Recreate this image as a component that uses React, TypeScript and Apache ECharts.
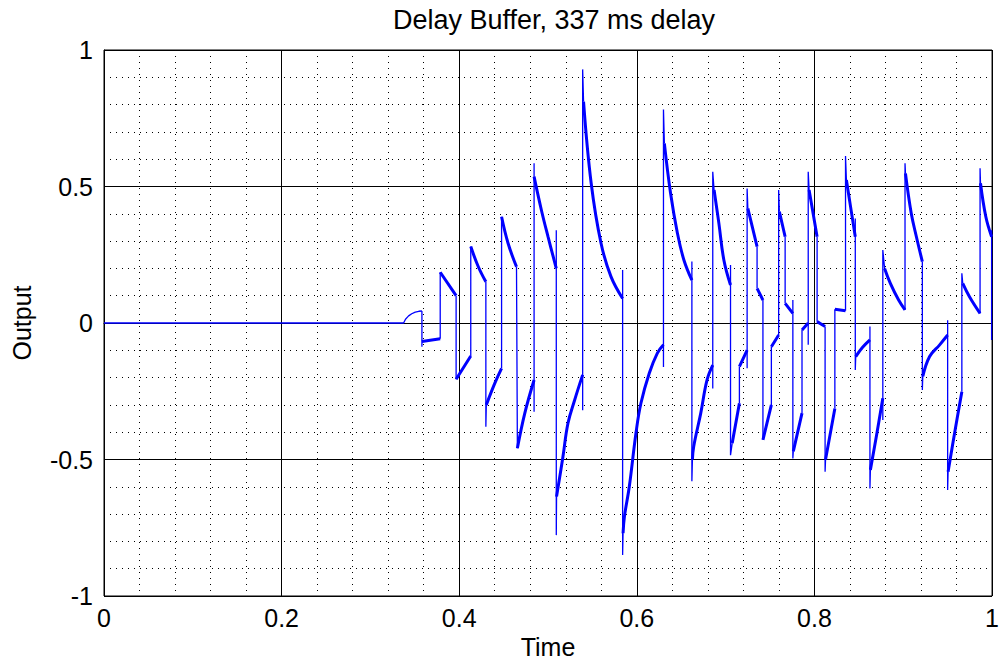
import React, { useEffect, useRef } from "react";
import * as echarts from "echarts";

type P = [number, number];

// Tick labels
const xTicks = [0, 0.2, 0.4, 0.6, 0.8, 1];
const xTickLabels = ["0", "0.2", "0.4", "0.6", "0.8", "1"];
const yTicks = [-1, -0.5, 0, 0.5, 1];
const yTickLabels = ["-1", "-0.5", "0", "0.5", "1"];

// Waveform pieces: [time, output]
const leadRun: P[] = [[0, 0], [0.3374, 0], [0.3395, 0.014], [0.343, 0.026], [0.3465, 0.034], [0.3505, 0.04], [0.3545, 0.043], [0.358, 0.044]];
const leadSpikes: number[] = [-0.087];

const runs: P[][] = [
  [[0.358, -0.068], [0.3786, -0.058]],
  [[0.3786, 0.186], [0.3965, 0.1]],
  [[0.3965, -0.206], [0.413, -0.121]],
  [[0.413, 0.28], [0.4215, 0.206], [0.43, 0.151]],
  [[0.4305, -0.3], [0.44, -0.221], [0.4477, -0.166]],
  [[0.4477, 0.389], [0.455, 0.292], [0.4645, 0.206]],
  [[0.4655, -0.459], [0.4738, -0.331], [0.4843, -0.209]],
  [[0.4843, 0.536], [0.4925, 0.414], [0.5, 0.316], [0.5093, 0.2]],
  [[0.5096, -0.636], [0.5168, -0.49], [0.5224, -0.368], [0.53, -0.282], [0.539, -0.19]],
  [[0.54, 0.811], [0.5486, 0.512], [0.5597, 0.292], [0.5709, 0.17], [0.584, 0.09]],
  [[0.5845, -0.77], [0.586, -0.71], [0.5915, -0.6], [0.599, -0.404], [0.6046, -0.294], [0.614, -0.184], [0.623, -0.111], [0.63, -0.08]],
  [[0.631, 0.658], [0.638, 0.475], [0.6457, 0.329], [0.653, 0.231], [0.662, 0.157]],
  [[0.6626, -0.5], [0.664, -0.453], [0.672, -0.33], [0.679, -0.209], [0.6855, -0.154]],
  [[0.687, 0.487], [0.6924, 0.365], [0.698, 0.231], [0.7055, 0.139]],
  [[0.7074, -0.44], [0.7155, -0.294]],
  [[0.7155, -0.16], [0.7242, -0.099]],
  [[0.725, 0.42], [0.7354, 0.28]],
  [[0.7354, 0.127], [0.742, 0.084]],
  [[0.742, -0.428], [0.7515, -0.3]],
  [[0.7515, -0.087], [0.7597, -0.044]],
  [[0.7605, 0.408], [0.767, 0.316]],
  [[0.767, 0.072], [0.7757, 0.035]],
  [[0.7762, -0.47], [0.786, -0.33]],
  [[0.786, -0.026], [0.793, 0.0]],
  [[0.794, 0.487], [0.803, 0.316]],
  [[0.803, 0.005], [0.812, -0.013]],
  [[0.8125, -0.5], [0.823, -0.313]],
  [[0.823, 0.05], [0.835, 0.045]],
  [[0.836, 0.524], [0.84, 0.44], [0.846, 0.316]],
  [[0.8465, -0.123], [0.854, -0.09], [0.8625, -0.062]],
  [[0.863, -0.538], [0.87, -0.41], [0.877, -0.276]],
  [[0.879, 0.2], [0.8855, 0.145], [0.8948, 0.084], [0.902, 0.048]],
  [[0.9025, 0.548], [0.909, 0.402], [0.9148, 0.316], [0.9215, 0.225]],
  [[0.922, -0.196], [0.9297, -0.123], [0.941, -0.08], [0.95, -0.044]],
  [[0.9505, -0.545], [0.958, -0.4], [0.966, -0.252]],
  [[0.967, 0.145], [0.9746, 0.096], [0.9865, 0.035]],
  [[0.987, 0.512], [0.993, 0.389], [0.9995, 0.316]],
];
// Overshoot spikes drawn at the end of each run, before the jump to the next one
const runSpikes: number[][] = [
  [], [], [], [-0.38], [], [], [-0.325, 0.585], [0.34, -0.777], [-0.32, 0.929],
  [0.194, -0.85], [-0.161, 0.782], [0.225, -0.58], [-0.24, 0.554], [0.212, -0.484],
  [], [-0.166, 0.493], [], [], [], [0.487], [], [0.084, -0.496], [], [-0.08, 0.554],
  [], [-0.545], [], [0.612], [0.383, -0.172], [-0.013, -0.606], [-0.355, 0.267],
  [0.585], [-0.245], [0.01, -0.612], [0.182], [0.567], [0.34, -0.062],
];

function buildJumps(): (P | null)[] {
  const out: (P | null)[] = [];
  const lastLead = leadRun[leadRun.length - 1];
  out.push(lastLead);
  leadSpikes.forEach((v) => out.push([lastLead[0], v]));
  out.push(runs[0][0]);
  out.push(null);
  runs.forEach((r, i) => {
    const last = r[r.length - 1];
    out.push(last);
    (runSpikes[i] || []).forEach((v) => out.push([last[0], v]));
    if (i + 1 < runs.length) out.push(runs[i + 1][0]);
    out.push(null);
  });
  return out;
}

function buildThick(): (P | null)[] {
  const out: (P | null)[] = [];
  runs.forEach((r) => {
    r.forEach((p) => out.push(p));
    out.push(null);
  });
  return out;
}

const FONT = "'Liberation Sans', Arial, Helvetica, sans-serif";

export default function App() {
  const ref = useRef<HTMLDivElement>(null);
  useEffect(() => {
    if (!ref.current) return;
    const chart = echarts.init(ref.current, undefined, { renderer: "svg" });
    const lbl = (ticks: number[], labels: string[]) => (v: number) => {
      const i = ticks.findIndex((t) => Math.abs(t - v) < 1e-6);
      return i >= 0 ? labels[i] : "";
    };
    chart.setOption({
      animation: false,
      backgroundColor: "#ffffff",
      title: {
        text: "Delay Buffer, 337 ms delay",
        left: 549,
        top: 1,
        textAlign: "center",
        textStyle: { fontFamily: FONT, fontSize: 27, fontWeight: "normal", color: "#000" },
      },
      grid: {
        left: 104,
        right: 6,
        top: 50,
        bottom: 75,
        show: true,
        borderColor: "#000",
        borderWidth: 1,
        backgroundColor: "#fff",
      },
      xAxis: {
        type: "value",
        min: 0,
        max: 1,
        interval: 0.2,
        name: "Time",
        nameLocation: "middle",
        nameGap: 36,
        nameTextStyle: { fontFamily: FONT, fontSize: 25, color: "#000" },
        axisLine: { show: true, lineStyle: { color: "#000", width: 1 } },
        axisTick: { show: false },
        minorTick: { show: false, splitNumber: 5 },
        axisLabel: {
          fontFamily: FONT,
          fontSize: 25,
          color: "#000",
          margin: 9,
          formatter: lbl(xTicks, xTickLabels),
        },
        splitLine: { show: true, lineStyle: { color: "#000", width: 1 } },
        minorSplitLine: { show: true, lineStyle: { color: "#000", width: 1, type: [1, 5] } },
      },
      yAxis: {
        type: "value",
        min: -1,
        max: 1,
        interval: 0.5,
        name: "Output",
        nameLocation: "middle",
        nameGap: 70,
        nameTextStyle: { fontFamily: FONT, fontSize: 25, color: "#000" },
        axisLine: { show: true, lineStyle: { color: "#000", width: 1 } },
        axisTick: { show: false },
        minorTick: { show: false, splitNumber: 5 },
        axisLabel: {
          fontFamily: FONT,
          fontSize: 25,
          color: "#000",
          margin: 11,
          formatter: lbl(yTicks, yTickLabels),
        },
        splitLine: { show: true, lineStyle: { color: "#000", width: 1 } },
        minorSplitLine: { show: true, lineStyle: { color: "#000", width: 1, type: [1, 5] } },
      },
      series: [
        {
          type: "line",
          data: leadRun,
          showSymbol: false,
          symbol: "none",
          lineStyle: { color: "#0000ff", width: 1.3 },
          z: 3,
        },
        {
          type: "line",
          data: buildJumps(),
          connectNulls: false,
          showSymbol: false,
          symbol: "none",
          lineStyle: { color: "#0000ff", width: 1.3 },
          z: 3,
        },
        {
          type: "line",
          data: buildThick(),
          connectNulls: false,
          showSymbol: false,
          symbol: "none",
          smooth: 0.4,
          lineStyle: { color: "#0000ff", width: 3 },
          z: 4,
        },
      ],
    });
    return () => chart.dispose();
  }, []);
  return (
    <div
      ref={ref}
      style={{ position: "fixed", left: 0, top: 0, width: 1002, height: 671, background: "#fff" }}
    />
  );
}
